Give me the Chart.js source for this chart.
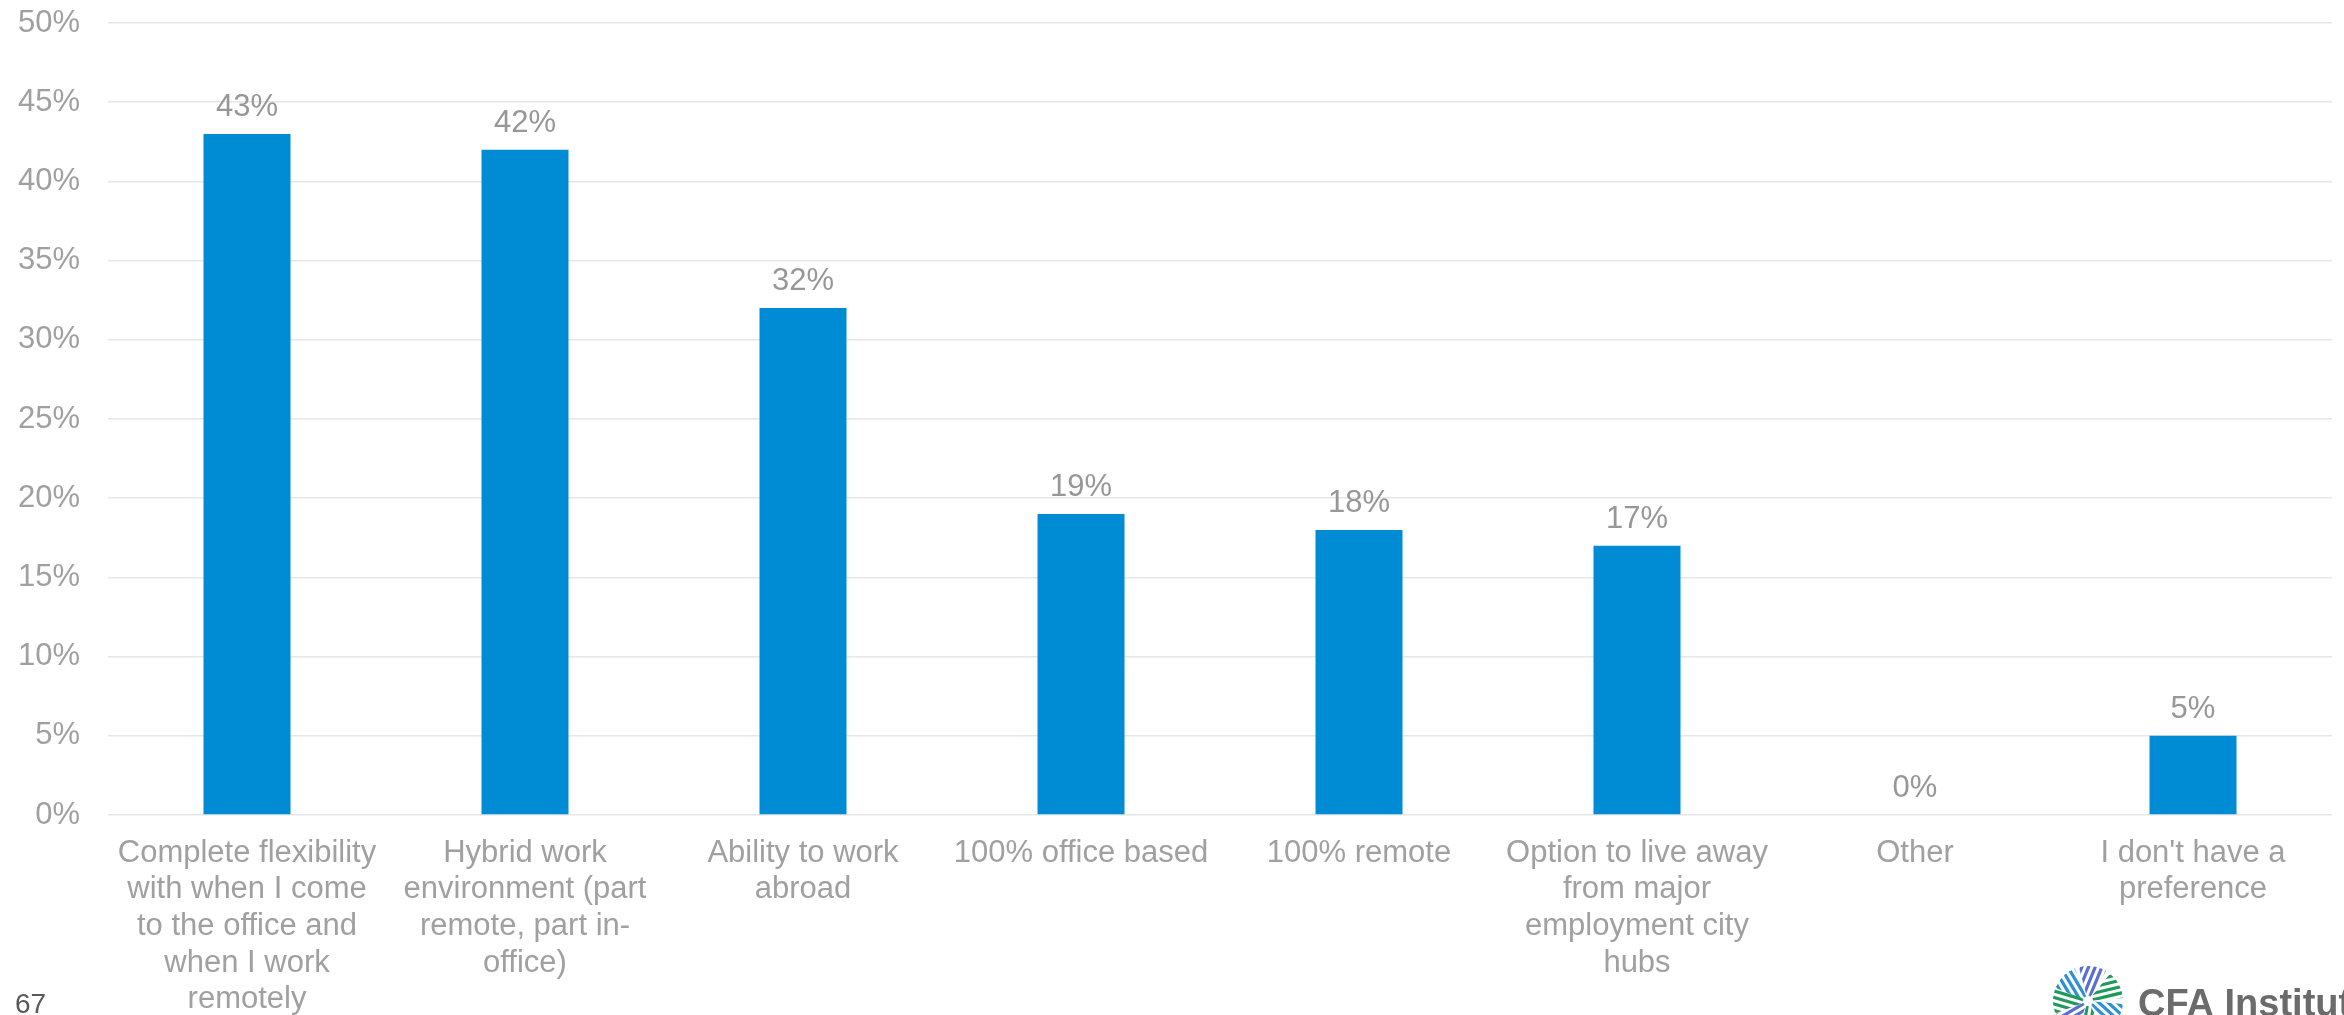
<!DOCTYPE html>
<html>
<head>
<meta charset="utf-8">
<script src="https://cdn.jsdelivr.net/npm/chart.js@4/dist/chart.umd.min.js"></script>
<style>
  html, body { margin: 0; padding: 0; background: #ffffff; }
  #wrap { width: 2344px; height: 1015px; position: relative; }
  canvas { display: block; }
</style>
</head>
<body>
<div id="wrap"><canvas id="c" width="2344" height="1015"></canvas></div>
<script>
const categories = [
  ["Complete flexibility", "with when I come", "to the office and", "when I work", "remotely"],
  ["Hybrid work", "environment (part", "remote, part in-", "office)"],
  ["Ability to work", "abroad"],
  ["100% office based"],
  ["100% remote"],
  ["Option to live away", "from major", "employment city", "hubs"],
  ["Other"],
  ["I don't have a", "preference"]
];
const values = [43, 42, 32, 19, 18, 17, 0, 5];
const yTicks = [0, 5, 10, 15, 20, 25, 30, 35, 40, 45, 50];
const pageNumber = "67";
const brandText = "CFA Institute";

const FONT = "'Liberation Sans', Arial, sans-serif";
const GREY = '#a0a0a0';

const labelPlugin = {
  id: 'valueLabels',
  afterDatasetsDraw(chart) {
    const ctx = chart.ctx;
    const meta = chart.getDatasetMeta(0);
    ctx.save();
    ctx.font = '31px ' + FONT;
    ctx.fillStyle = '#979797';
    ctx.textAlign = 'center';
    ctx.textBaseline = 'alphabetic';
    meta.data.forEach((bar, i) => {
      ctx.fillText(values[i] + '%', bar.x, bar.y - 18);
    });
    ctx.restore();
  }
};

const decorPlugin = {
  id: 'decor',
  afterDraw(chart) {
    const ctx = chart.ctx;
    ctx.save();
    ctx.font = '28px ' + FONT;
    ctx.fillStyle = '#595959';
    ctx.textAlign = 'left';
    ctx.textBaseline = 'alphabetic';
    ctx.fillText(pageNumber, 15, 1013);
    const cx = 2088, cy = 1001, R = 35;
    const wedges = [
      {dir: -135, col: '#2b8fd9'},
      {dir: -82,  col: '#5a6fd2'},
      {dir: -28,  col: '#1f9a5a'},
      {dir: 28,   col: '#2b8fd9'},
      {dir: 85,   col: '#1f9a5a'},
      {dir: 135,  col: '#5a6fd2'},
      {dir: 182,  col: '#1f9a5a'}
    ];
    wedges.forEach(w => {
      const a = w.dir * Math.PI / 180;
      const half = 23 * Math.PI / 180;
      ctx.save();
      ctx.beginPath();
      ctx.moveTo(cx, cy);
      ctx.arc(cx, cy, R, a - half, a + half);
      ctx.closePath();
      ctx.clip();
      ctx.strokeStyle = w.col;
      ctx.lineWidth = 3.2;
      const dx = Math.cos(a + 0.25), dy = Math.sin(a + 0.25);
      for (let k = -5; k <= 5; k++) {
        const px = -dy * k * 6.2, py = dx * k * 6.2;
        ctx.beginPath();
        ctx.moveTo(cx + px + dx * 5, cy + py + dy * 5);
        ctx.lineTo(cx + px + dx * 40, cy + py + dy * 40);
        ctx.stroke();
      }
      ctx.restore();
    });
    ctx.font = 'bold 38px ' + FONT;
    ctx.fillStyle = '#6b6b6b';
    ctx.fillText(brandText, 2138, 1016);
    ctx.restore();
  }
};

new Chart(document.getElementById('c'), {
  type: 'bar',
  data: {
    labels: categories,
    datasets: [{
      data: values,
      backgroundColor: '#008cd5',
      borderWidth: 0,
      categoryPercentage: 1.0,
      barPercentage: 0.313
    }]
  },
  options: {
    responsive: false,
    animation: false,
    devicePixelRatio: 1,
    layout: { padding: { top: 23, right: 12, left: 0, bottom: 0 } },
    plugins: { legend: { display: false }, tooltip: { enabled: false } },
    scales: {
      y: {
        min: 0, max: 50,
        afterBuildTicks(scale) { scale.ticks = yTicks.map(v => ({ value: v })); },
        afterFit(scale) { scale.width = 108; scale.paddingTop = 0; scale.paddingBottom = 0; },
        border: { display: false },
        grid: { color: '#e6e6e6', lineWidth: 1.5, drawTicks: false },
        ticks: {
          padding: 28,
          color: GREY,
          font: { family: FONT, size: 31 },
          callback: v => v + '%'
        }
      },
      x: {
        afterFit(scale) { scale.height = 200; scale.paddingLeft = 0; scale.paddingRight = 0; },
        border: { display: false },
        grid: { display: false, drawTicks: false },
        ticks: {
          padding: 20,
          color: GREY,
          maxRotation: 0,
          autoSkip: false,
          font: { family: FONT, size: 31, lineHeight: 1.18 }
        }
      }
    }
  },
  plugins: [labelPlugin, decorPlugin]
});
</script>
</body>
</html>
